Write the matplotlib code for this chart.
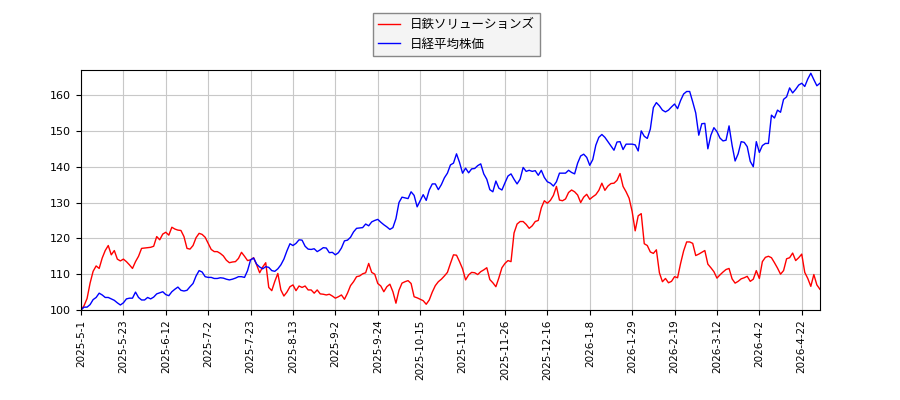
import matplotlib
matplotlib.use("Agg")
import matplotlib.pyplot as plt

plt.rcParams["font.family"] = ["DejaVu Sans", "Noto Sans CJK JP"]

# values normalised to 100 on 2025-5-1, one per trading day
NSSOL = [
    100.0, 101.2, 103.2, 107.5, 110.8, 112.3, 111.6, 114.5, 116.6, 118.0,
    115.4, 116.6, 114.2, 113.7, 114.2, 113.5, 112.6, 111.6, 113.5, 115.0,
    117.2, 117.3, 117.4, 117.5, 117.8, 120.5, 119.6, 121.2, 121.7, 120.9,
    123.1, 122.6, 122.3, 122.2, 120.5, 117.2, 117.0, 118.0, 120.2, 121.4,
    121.1, 120.3, 118.6, 116.9, 116.3, 116.3, 115.8, 115.1, 113.9, 113.2,
    113.4, 113.5, 114.4, 116.1, 115.0, 113.8, 114.0, 114.6, 112.6, 110.4,
    112.0, 113.2, 106.3, 105.4, 108.0, 110.2, 105.6, 103.9, 105.0, 106.5,
    107.0, 105.4, 106.7, 106.3, 106.7, 105.6, 105.6, 104.7, 105.6, 104.5,
    104.4, 104.2, 104.4, 103.9, 103.3, 103.7, 104.2, 103.0, 104.7, 106.8,
    107.9, 109.3, 109.5, 110.1, 110.4, 113.0, 110.5, 110.0, 107.4, 106.7,
    105.1, 106.5, 107.2, 105.1, 101.9, 105.5, 107.5, 107.9, 108.2, 107.4,
    103.7, 103.4, 103.0, 102.6, 101.6, 102.8, 105.0, 106.8, 107.9, 108.6,
    109.5, 110.5, 113.0, 115.4, 115.3, 113.5, 111.5, 108.4, 109.8, 110.5,
    110.4, 109.9, 110.7, 111.2, 111.8, 108.5, 107.6, 106.5, 109.0, 111.8,
    113.0, 113.8, 113.5, 121.5, 124.0, 124.7, 124.7, 123.9, 122.8, 123.5,
    124.7, 125.0, 128.5, 130.5, 129.8, 130.6, 132.0, 134.5, 130.7, 130.5,
    131.0, 132.8, 133.5, 133.0, 132.1, 130.0, 131.5, 132.3, 130.9, 131.6,
    132.2, 133.4, 135.4, 133.4, 134.6, 135.3, 135.4, 136.2, 138.1, 134.5,
    133.0, 131.2, 127.5, 122.1, 126.3, 126.9, 118.5, 118.0, 116.2, 115.8,
    116.8, 110.4, 107.9, 108.8, 107.6, 108.0, 109.3, 109.0, 113.0, 116.5,
    119.0, 119.0, 118.6, 115.2, 115.6, 116.1, 116.6, 112.8, 111.8, 110.7,
    108.9, 109.8, 110.6, 111.3, 111.6, 108.7, 107.5, 108.0, 108.7, 109.0,
    109.4, 108.0, 108.6, 111.0, 108.8, 113.5, 114.7, 115.0, 114.6, 113.2,
    111.7, 110.0, 111.0, 114.3, 114.6, 115.9, 113.8, 114.6, 115.6, 110.5,
    108.8, 106.6, 109.9, 107.0, 105.8,
]

NIKKEI = [
    100.0, 100.8, 100.8, 101.5, 102.9, 103.5, 104.7, 104.2, 103.5, 103.5,
    103.1, 102.7, 102.0, 101.4, 102.0, 103.1, 103.3, 103.3, 105.0, 103.5,
    102.8, 102.8, 103.5, 103.1, 103.6, 104.5, 104.8, 105.1, 104.3, 104.0,
    105.1, 105.8, 106.4, 105.5, 105.3, 105.5, 106.5, 107.4, 109.5, 111.0,
    110.6, 109.3, 109.1, 109.1, 108.8, 108.8, 109.0, 108.9, 108.6, 108.4,
    108.6, 108.9, 109.3, 109.3, 109.1, 111.0, 114.0, 114.5, 112.8, 112.0,
    111.5, 112.1, 111.9, 111.0, 110.8, 111.5, 112.6, 114.2, 116.5, 118.5,
    118.0, 118.6, 119.6, 119.5, 117.8, 117.0, 116.9, 117.1, 116.3, 116.8,
    117.4, 117.3, 116.0, 116.1, 115.4, 116.0, 117.3, 119.3, 119.5, 120.3,
    121.8, 122.8, 122.9, 123.0, 124.0, 123.5, 124.6, 125.0, 125.3, 124.5,
    123.8, 123.2, 122.5, 123.0, 125.5, 130.0, 131.5, 131.3, 131.1, 133.0,
    132.0, 128.8, 130.5, 132.2, 130.6, 133.5, 135.2, 135.2, 133.6, 135.0,
    136.9, 138.2, 140.5, 141.0, 143.6, 141.2, 138.2, 139.6, 138.3, 139.4,
    139.5, 140.3, 140.8, 138.0, 136.5, 133.6, 133.0, 136.0, 134.0, 133.5,
    135.5, 137.4, 138.0, 136.5, 135.2, 136.5, 139.8, 138.7, 139.0, 138.7,
    138.9, 137.6, 139.0, 137.0, 135.8, 135.4, 134.6, 135.8, 138.2, 138.2,
    138.2, 139.0, 138.4, 138.0, 141.0, 143.0, 143.5, 142.6, 140.4, 142.0,
    146.0, 148.2, 149.0, 148.2, 147.0, 145.8, 144.6, 146.9, 147.0, 144.8,
    146.3, 146.3, 146.3, 146.1, 144.4, 150.0, 148.5, 147.9, 150.5, 156.5,
    157.9, 157.0, 155.8, 155.3, 155.8, 156.7, 157.5, 156.2, 158.5, 160.3,
    161.0, 161.0, 158.1, 155.0, 148.8, 152.0, 152.1, 145.0, 148.8, 150.9,
    149.8, 148.0, 147.2, 147.4, 151.4, 146.0, 141.6, 143.6, 147.0, 146.8,
    145.6, 141.5, 140.0, 147.0, 144.0, 145.9, 146.5, 146.5, 154.4, 153.6,
    155.8, 155.2, 158.8, 159.5, 162.0, 160.6, 161.6, 162.8, 163.3, 162.4,
    164.5, 166.1, 164.3, 162.6, 163.3,
]

# tick labels, one every 14 trading days
TICK_LABELS = [
    "2025-5-1", "2025-5-23", "2025-6-12", "2025-7-2", "2025-7-23", "2025-8-13",
    "2025-9-2", "2025-9-24", "2025-10-15", "2025-11-5", "2025-11-26", "2025-12-16",
    "2026-1-8", "2026-1-29", "2026-2-19", "2026-3-12", "2026-4-2", "2026-4-22",
]
TICK_STEP = 14

x = list(range(len(NSSOL)))

fig = plt.figure(figsize=(9, 4), dpi=100)
ax = fig.add_axes([0.09, 0.225, 0.821, 0.6])

ax.plot(x, NSSOL, color="red", lw=1, label="日鉄ソリューションズ")
ax.plot(x, NIKKEI, color="blue", lw=1, label="日経平均株価")

ax.set_xlim(0, len(x) - 1)
ax.set_ylim(100, 167)
ax.set_yticks(range(100, 161, 10))
ax.set_xticks([i * TICK_STEP for i in range(len(TICK_LABELS))])
ax.set_xticklabels(TICK_LABELS, rotation=90, fontsize=7.5)
ax.tick_params(axis="y", labelsize=8)
ax.grid(color="#c8c8c8", lw=0.8)

fig.legend(loc="upper center", bbox_to_anchor=(0.507, 0.982), fontsize=9,
           handlelength=1.8, fancybox=False, facecolor="#f4f4f4",
           edgecolor="#888888", framealpha=1)

fig.savefig("out.png", dpi=100)
